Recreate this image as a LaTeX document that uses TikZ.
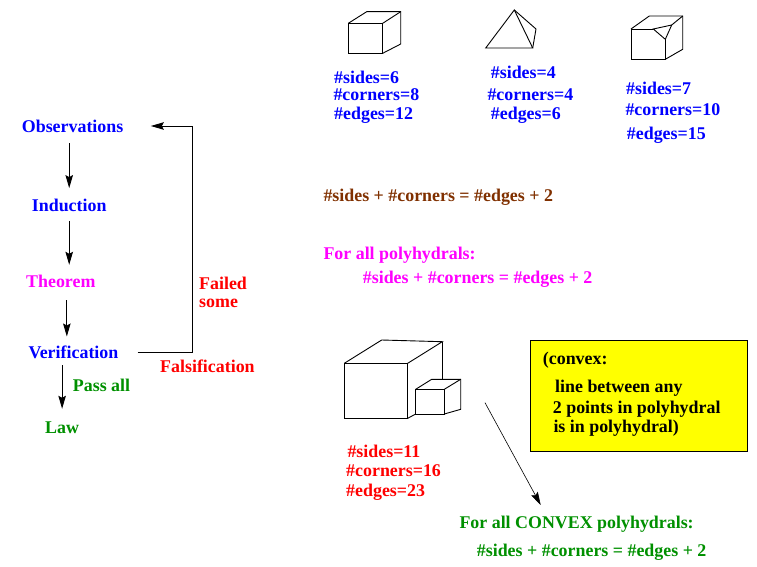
\documentclass[tikz,border=0pt]{standalone}
\usepackage{fontspec}
\setmainfont{Liberation Serif}
\usepackage{xcolor}
\usetikzlibrary{arrows.meta}
\definecolor{figblue}{RGB}{0,0,255}
\definecolor{figmagenta}{RGB}{255,0,255}
\definecolor{figbrown}{RGB}{128,48,0}
\definecolor{figred}{RGB}{255,0,0}
\definecolor{figgreen}{RGB}{0,144,0}
\definecolor{figyellow}{RGB}{255,255,0}
\newcommand{\figfont}{\fontsize{17.9}{18.4}\selectfont\bfseries}

\begin{document}
\begin{tikzpicture}[x=1pt, y=-1pt,
    txt/.style={font=\figfont, inner sep=0pt, text height=12pt, text depth=0pt, anchor=base west},
    arr/.style={-{Stealth[length=13pt,width=7.5pt,inset=2pt]}, line width=0.9pt},
    solid/.style={line width=0.9pt}]
        \useasboundingbox (0,0) rectangle (757,567);

        % scientific method
        \node[txt, figblue] (obs) at (21.7,132) {Observations};
        \node[txt, figblue] (ind) at (31.7,211.7) {Induction};
        \node[txt, figmagenta] (thm) at (26,287.7) {Theorem};
        \node[txt, figblue] (ver) at (28.3,358.3) {Verification};
        \node[txt, figgreen] (law) at (45,433.3) {Law};
        \node[txt, figgreen] (pass) at (72.7,391.7) {Pass all};
        \node[txt, figred] (failed) at (199,289.3) {Failed};
        \node[txt, figred] (some) at (199,307) {some};
        \node[txt, figred] (fals) at (160,372.7) {Falsification};
        \coordinate (turn) at (192.7,126);

        \draw[arr, shorten <=11, shorten >=11.4] (ind.north |- obs.south) -- (ind.north);
        \draw[arr, shorten <=9, shorten >=10.7] (ind.south) -- (ind.south |- thm.north);
        \draw[arr, shorten <=12.3, shorten >=9.6] ([xshift=6]thm.south) -- ([xshift=6]thm.south |- ver.north);
        \draw[arr, shorten <=6.7, shorten >=12.3] (law.north |- ver.south) -- (law.north);
        \draw[arr, shorten <=19, shorten >=27.3] (ver.east) -| (turn) -- (obs.east);

        % polyhedra
        \draw[solid] (348.3,23.3) rectangle (382.7,53.3);
        \draw[solid] (348.3,23.3) -- (366.7,11.7) -- (400.7,11.7) -- (400.7,44) -- (382.7,53.3);
        \draw[solid] (382.7,23.3) -- (400.7,11.7);

        \draw[solid] (514.3,10) -- (485.7,48) -- (532.7,48) -- cycle;
        \draw[solid] (514.3,10) -- (536,29) -- (532.7,48);

        \draw[solid] (653.3,29) -- (631,29) -- (631,59.3) -- (665.3,59.3) -- (665.3,39.3);
        \draw[solid] (631,29) -- (649.3,16) -- (682.7,16) -- (682.7,49.3) -- (665.3,59.3);
        \draw[solid] (653.3,29) -- (665.3,39.3) -- (671.7,25) -- cycle;
        \draw[solid] (671.7,25) -- (682.7,16);

        \node[txt, figblue] (sides6) at (334,83.3) {\#sides=6};
        \node[txt, figblue] (corners8) at (333.3,101) {\#corners=8};
        \node[txt, figblue] (edges12) at (334,119.3) {\#edges=12};
        \node[txt, figblue] (sides4) at (490.7,78.3) {\#sides=4};
        \node[txt, figblue] (corners4) at (487.3,101) {\#corners=4};
        \node[txt, figblue] (edges6) at (490.7,120) {\#edges=6};
        \node[txt, figblue] (sides7) at (626,95) {\#sides=7};
        \node[txt, figblue] (corners10) at (625.3,116) {\#corners=10};
        \node[txt, figblue] (edges15) at (626.7,139.3) {\#edges=15};

        % formulas
        \node[txt, figbrown] (euler) at (323.3,201) {\#sides + \#corners = \#edges + 2};
        \node[txt, figmagenta] (forall) at (323.3,259.7) {For all polyhydrals:};
        \node[txt, figmagenta] (eulerall) at (362.7,283.7) {\#sides + \#corners = \#edges + 2};

        % non-convex counterexample
        \draw[solid] (344.3,363.3) rectangle (407.7,418.3);
        \draw[solid] (344.3,363.3) -- (381.7,340) -- (442.3,341.7) -- (407.7,363.3);
        \draw[solid] (442.3,341.7) -- (442.3,379.3);
        \draw[solid] (407.7,418.3) -- (415.7,414);
        \draw[solid] (415.7,389.3) rectangle (444.3,414);
        \draw[solid] (415.7,389.3) -- (431.7,379.3) -- (460.7,379.3) -- (460.7,409.3) -- (444.3,414);
        \draw[solid] (444.3,389.3) -- (460.7,379.3);

        \node[txt, figred] (sides11) at (347.3,457.7) {\#sides=11};
        \node[txt, figred] (corners16) at (346,476.7) {\#corners=16};
        \node[txt, figred] (edges23) at (346,496) {\#edges=23};

        \node[draw, solid, fill=figyellow, minimum width=216.7pt, minimum height=110.7pt, anchor=north west] (cvxbox) at (530,340) {};
        \node[txt] (cvx1) at (542.7,364.3) {(convex:};
        \node[txt] (cvx2) at (555,392.7) {line between any};
        \node[txt] (cvx3) at (552.7,413.3) {2 points in polyhydral};
        \node[txt] (cvx4) at (553.3,432.7) {is in polyhydral)};

        \coordinate (cvxfrom) at (485,402.7);
        \coordinate (cvxto) at (540.7,505);
        \draw[arr, line width=0.6pt] (cvxfrom) -- (cvxto);

        \node[txt, figgreen] (allcvx) at (459.3,528.3) {For all CONVEX polyhydrals:};
        \node[txt, figgreen] (eulercvx) at (476.7,556) {\#sides + \#corners = \#edges + 2};
\end{tikzpicture}
\end{document}
